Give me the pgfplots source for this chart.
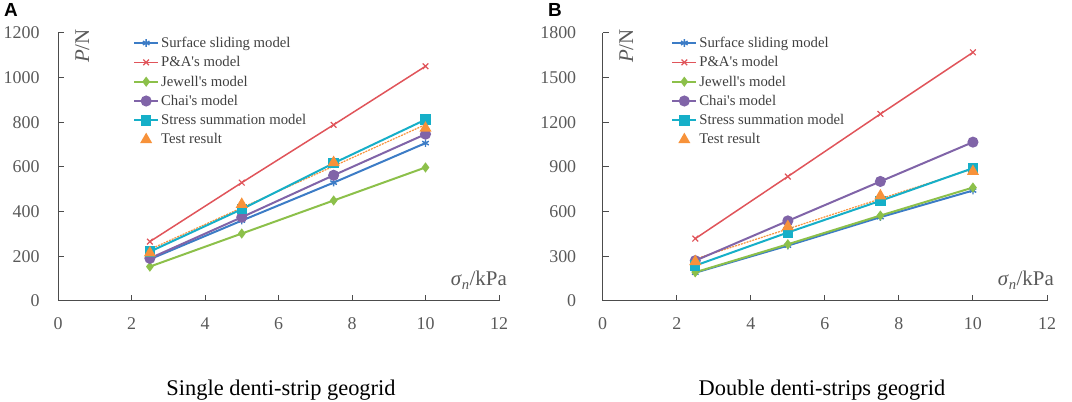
\documentclass[border=0pt]{standalone}
\usepackage{fontspec}
\setmainfont{Liberation Serif}[Ligatures=TeXOff]
\newfontfamily\arialf{Liberation Sans}
\usepackage{pgfplots}
\pgfplotsset{compat=1.18}
\definecolor{cBlue}{HTML}{3C7CC6}
\definecolor{cRed}{HTML}{E0545A}
\definecolor{cGreen}{HTML}{8CC04A}
\definecolor{cPurple}{HTML}{8064A8}
\definecolor{cCyan}{HTML}{16AFC8}
\definecolor{cOrange}{HTML}{F7923A}
\definecolor{tgray}{HTML}{595959}
\pgfplotsset{
 myaxis/.style={
  scale only axis, height=268bp,
  xmin=0,xmax=12, xtick={0,2,...,12}, ymin=0,
  axis lines=left, axis line style={-, color=black!70, line width=1bp},
  tick style={color=black!70, line width=1bp}, major tick length=6bp, tick align=inside,
  ticklabel style={font=\fontsize{18}{20}\selectfont, text=tgray},
  xticklabel style={yshift=-13bp},
  /pgf/number format/assume math mode=true,
  /pgf/number format/1000 sep={},
  legend style={draw=none, fill=none, font=\fontsize{14.8}{16}\selectfont, text=black!75, anchor=north west, cells={anchor=west}, row sep=3.6bp, inner sep=0pt},
  legend image code/.code={\draw[mark repeat=2,mark phase=2] plot coordinates {(0bp,0bp)(12bp,0bp)(24bp,0bp)};},
  every axis plot/.append style={line width=2bp},
 },
 sS/.style={color=cBlue, mark=asterisk, mark size=3.8bp, mark options={solid,line width=1.4bp}},
 sP/.style={color=cRed, line width=1.5bp, mark=x, mark size=4bp, mark options={solid,line width=1.2bp}},
 sJ/.style={color=cGreen, mark=diamond*, mark size=3.5bp, mark options={solid,fill=cGreen}},
 sC/.style={color=cPurple, mark=*, mark size=4.5bp, mark options={solid,fill=cPurple}},
 sT/.style={color=cCyan, mark=square*, mark size=4.2bp, mark options={solid,fill=cCyan}},
 sR/.style={color=cOrange, only marks, mark=triangle*, mark size=5bp, mark options={solid,fill=cOrange}},
 sL/.style={color=cOrange, densely dotted, line width=1.2bp, forget plot},
}
\begin{document}
\begin{tikzpicture}
\path[use as bounding box] (0,0) rectangle (1072bp,402bp);
% Panel A
\begin{axis}[myaxis, at={(58bp,101bp)}, anchor=south west, width=441bp,
  ymax=1200, ytick={0,200,...,1200}, yticklabel style={xshift=-15bp},
  legend style={at={(0.170,0.993)}}]
\addplot[sL] coordinates {(2.5,231)(10,790)};
\addplot[sS] coordinates {(2.5,187)(5,360)(7.5,530)(10,707)};
\addlegendentry{Surface sliding model}
\addplot[sP] coordinates {(2.5,266)(5,530)(7.5,789)(10,1051)};
\addlegendentry{P\&A's model}
\addplot[sJ] coordinates {(2.5,154)(5,302)(7.5,450)(10,598)};
\addlegendentry{Jewell's model}
\addplot[sC] coordinates {(2.5,191)(5,375)(7.5,563)(10,747)};
\addlegendentry{Chai's model}
\addplot[sT] coordinates {(2.5,221)(5,411)(7.5,617)(10,812)};
\addlegendentry{Stress summation model}
\addplot[sR] coordinates {(2.5,215)(5,433)(7.5,620)(10,774)};
\addlegendentry{Test result}
\end{axis}
% Panel B
\begin{axis}[myaxis, at={(602.7bp,101bp)}, anchor=south west, width=444.3bp,
  ymax=1800, ytick={0,300,...,1800}, yticklabel style={xshift=-23bp},
  legend style={at={(0.154,0.993)}}]
\addplot[sL] coordinates {(2.5,282)(10,888)};
\addplot[sS] coordinates {(2.5,190)(5,372)(7.5,563)(10,742)};
\addlegendentry{Surface sliding model}
\addplot[sP] coordinates {(2.5,419)(5,836)(7.5,1256)(10,1670)};
\addlegendentry{P\&A's model}
\addplot[sJ] coordinates {(2.5,193)(5,381)(7.5,574)(10,762)};
\addlegendentry{Jewell's model}
\addplot[sC] coordinates {(2.5,271)(5,538)(7.5,803)(10,1067)};
\addlegendentry{Chai's model}
\addplot[sT] coordinates {(2.5,238)(5,460)(7.5,673)(10,892)};
\addlegendentry{Stress summation model}
\addplot[sR] coordinates {(2.5,265)(5,500)(7.5,706)(10,870)};
\addlegendentry{Test result}
\end{axis}
% labels
\node[anchor=base west, font=\arialf\bfseries\fontsize{19}{20}\selectfont, inner sep=0pt] at (4bp,385bp) {A};
\node[anchor=base west, font=\arialf\bfseries\fontsize{19}{20}\selectfont, inner sep=0pt] at (548bp,385bp) {B};
\node[anchor=base east, font=\fontsize{21}{22}\selectfont, text=tgray, inner sep=0pt] at (507bp,116bp) {\textit{σ}\textsubscript{\textit{n}}/kPa};
\node[anchor=base east, font=\fontsize{21}{22}\selectfont, text=tgray, inner sep=0pt] at (1054bp,116bp) {\textit{σ}\textsubscript{\textit{n}}/kPa};
\node[anchor=base west, rotate=90, font=\fontsize{21}{22}\selectfont, text=tgray, inner sep=0pt] at (89bp,339bp) {\textit{P}/N};
\node[anchor=base west, rotate=90, font=\fontsize{21}{22}\selectfont, text=tgray, inner sep=0pt] at (633bp,339bp) {\textit{P}/N};
\node[anchor=base, font=\fontsize{22.5}{24}\selectfont, inner sep=0pt] at (281bp,7bp) {Single denti-strip geogrid};
\node[anchor=base, font=\fontsize{22.5}{24}\selectfont, inner sep=0pt] at (822bp,7bp) {Double denti-strips geogrid};
\end{tikzpicture}
\end{document}
